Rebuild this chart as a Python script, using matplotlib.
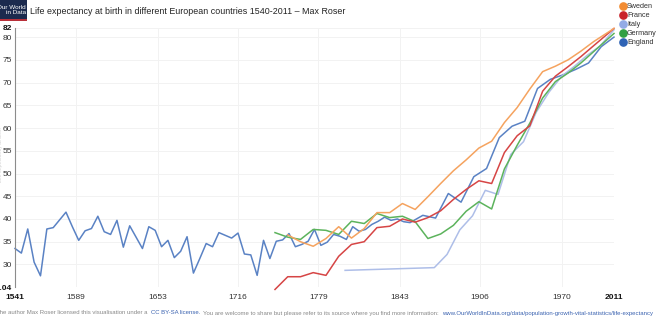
import matplotlib.pyplot as plt
from matplotlib.patches import Rectangle
from matplotlib.lines import Line2D

plt.rcParams['font.family'] = ['Liberation Sans', 'DejaVu Sans']

# life expectancy at birth
england_years = [1541, 1546, 1551, 1556, 1561, 1566, 1571, 1576, 1581, 1586,
                 1591, 1596, 1601, 1606, 1611, 1616, 1621, 1626, 1631, 1636,
                 1641, 1646, 1651, 1656, 1661, 1666, 1671, 1676, 1681, 1686,
                 1691, 1696, 1701, 1706, 1711, 1716, 1721, 1726, 1731, 1736,
                 1741, 1746, 1751, 1756, 1761, 1766, 1771, 1776, 1781, 1786,
                 1791, 1796, 1801, 1806, 1811, 1816, 1821, 1826, 1831, 1836,
                 1841, 1846, 1851, 1861, 1871, 1881, 1891, 1901, 1911, 1921,
                 1931, 1941, 1951, 1961, 1971, 1981, 1991, 2001, 2011]
england_le = [33.5, 32.5, 37.8, 30.5, 27.5, 37.8, 38.1, 39.8, 41.5, 38.3,
              35.3, 37.4, 37.9, 40.6, 37.2, 36.6, 39.7, 33.8, 38.5, 36.0,
              33.5, 38.3, 37.5, 33.9, 35.3, 31.5, 32.9, 36.1, 28.1, 31.3,
              34.6, 33.9, 37.0, 36.4, 35.8, 36.9, 32.3, 32.1, 27.6, 35.3,
              31.3, 35.1, 35.4, 36.8, 33.9, 34.4, 35.1, 37.7, 34.2, 34.9,
              36.6, 36.2, 35.5, 38.3, 37.3, 37.7, 38.8, 39.5, 40.4, 39.7,
              40.0, 39.4, 39.2, 40.8, 40.2, 45.6, 43.7, 49.3, 51.1, 57.9,
              60.4, 61.5, 68.7, 70.7, 71.7, 72.9, 74.3, 77.9, 80.0]

sweden_years = [1755, 1765, 1775, 1785, 1795, 1805, 1815, 1825, 1835, 1845,
                1855, 1865, 1875, 1885, 1895, 1905, 1915, 1925, 1935, 1945,
                1955, 1965, 1975, 1985, 1995, 2011]
sweden_le = [36.5, 35.0, 34.0, 35.7, 38.3, 35.8, 37.9, 41.4, 41.4, 43.4,
             42.1, 44.9, 47.8, 50.6, 53.0, 55.6, 57.1, 61.2, 64.5, 68.6,
             72.4, 73.6, 75.0, 76.9, 79.0, 81.9]

france_years = [1745, 1755, 1765, 1775, 1785, 1795, 1805, 1815, 1825, 1835,
                1845, 1855, 1865, 1875, 1885, 1895, 1905, 1915, 1925, 1935,
                1945, 1955, 1965, 1975, 1985, 1995, 2011]
france_le = [24.5, 27.3, 27.3, 28.2, 27.6, 31.8, 34.4, 35.0, 38.1, 38.4,
             40.0, 39.3, 40.3, 41.8, 44.3, 46.5, 48.4, 47.8, 54.6, 58.3,
             60.5, 68.1, 71.4, 73.5, 75.7, 78.1, 81.9]

italy_years = [1800, 1870, 1880, 1890, 1900, 1910, 1920, 1930, 1940, 1950,
               1960, 1970, 1980, 1990, 2000, 2011]
italy_le = [28.7, 29.3, 32.2, 37.6, 40.7, 46.3, 45.4, 54.2, 57.0, 63.5,
            67.9, 71.4, 73.6, 76.0, 78.0, 81.6]

germany_years = [1745, 1755, 1765, 1775, 1785, 1795, 1805, 1815, 1825, 1835,
                 1845, 1855, 1865, 1875, 1885, 1895, 1905, 1915, 1925, 1935,
                 1945, 1955, 1965, 1975, 1985, 1995, 2011]
germany_le = [37.0, 36.0, 35.5, 37.7, 37.5, 36.6, 39.5, 39.0, 41.2, 40.3,
              40.6, 39.4, 35.7, 36.7, 38.6, 41.7, 43.8, 42.2, 51.0, 56.2,
              61.1, 66.6, 70.2, 72.1, 74.3, 76.8, 80.8]

x_ticks = [1541, 1589, 1653, 1716, 1779, 1843, 1906, 1970, 2011]
y_ticks = [25.04, 30, 35, 40, 45, 50, 55, 60, 65, 70, 75, 80, 82]

series = [
    ("England", england_years, england_le, "#5a82c4", "#2f63b5"),
    ("Italy", italy_years, italy_le, "#aebee8", "#93abe6"),
    ("Germany", germany_years, germany_le, "#5cb35c", "#33a043"),
    ("France", france_years, france_le, "#d64545", "#c92229"),
    ("Sweden", sweden_years, sweden_le, "#f5a35f", "#f28c33"),
]
legend_order = ["Sweden", "France", "Italy", "Germany", "England"]

W, H = 661, 322
fig = plt.figure(figsize=(W / 100, H / 100), dpi=100)
ax = fig.add_axes([15 / W, 1 - 287 / H, 599 / W, 259 / H])

for name, yrs, vals, col, _ in series:
    ax.plot(yrs, vals, color=col, lw=1.1, clip_on=False)

ax.set_xlim(1541, 2011)
ax.set_ylim(25.04, 82)
ax.set_xticks(x_ticks)
ax.set_xticklabels([str(t) for t in x_ticks])
ax.set_yticks(y_ticks)
ax.set_yticklabels(["25.04"] + [str(t) for t in y_ticks[1:-1]] + ["82"])
ax.tick_params(axis="both", length=0, labelsize=6, labelcolor="#333333")
ax.tick_params(axis="x", pad=5)
ax.tick_params(axis="y", pad=2)
for lab in ax.get_xticklabels():
    if lab.get_text() in ("1541", "2011"):
        lab.set_fontweight("bold")
        lab.set_color("#111111")
for lab in ax.get_yticklabels():
    if lab.get_text() in ("25.04", "82"):
        lab.set_fontweight("bold")
        lab.set_color("#111111")

ax.grid(True, color="#f2f2f2", lw=0.7)
ax.set_axisbelow(True)
for side in ("top", "right", "bottom"):
    ax.spines[side].set_visible(False)
ax.spines["left"].set_color("#8c8c8c")
ax.spines["left"].set_linewidth(0.8)

# faint axis title, mostly hidden at the left edge
fig.text(0.8 / W, 1 - 155 / H, "Life expectancy at birth", rotation=90,
         fontsize=3.8, color="#d0d0d0", ha="center", va="center")

# logo
fig.add_artist(Rectangle((0, 1 - 21 / H), 27 / W, 21 / H, transform=fig.transFigure,
                         facecolor="#1b2a4e", edgecolor="none"))
fig.add_artist(Rectangle((0, 1 - 21 / H), 27 / W, 2 / H, transform=fig.transFigure,
                         facecolor="#b8303a", edgecolor="none"))
fig.text(26 / W, 1 - 10 / H, "Our World\nin Data", color="white", fontsize=4.6,
         ha="right", va="center", linespacing=0.95)

fig.text(30 / W, 1 - 12 / H,
         "Life expectancy at birth in different European countries 1540-2011 \u2013 Max Roser",
         fontsize=6.4, color="#222222", va="center")

# legend
colors = {name: lc for name, _, _, _, lc in series}
for i, name in enumerate(legend_order):
    yy = 1 - (6 + 9.1 * i) / H
    fig.add_artist(Line2D([622.5 / W], [yy], marker="o", markersize=5.2, color=colors[name],
                          transform=fig.transFigure, lw=0))
    fig.text(627 / W, yy, name, fontsize=5.2, color="#333333", va="center")

# footer with coloured links
footer_parts = [
    ("The author Max Roser licensed this visualisation under a", "#888888"),
    ("CC BY-SA license.", "#3a62b0"),
    ("You are welcome to share but please refer to its source where you find more information:", "#888888"),
    ("www.OurWorldInData.org/data/population-growth-vital-statistics/life-expectancy", "#3a62b0"),
]
renderer = fig.canvas.get_renderer()
x = -4.0
for text, col in footer_parts:
    t = fig.text(x / W, 1 - 313 / H, text, fontsize=4.3, color=col, va="center")
    bb = t.get_window_extent(renderer)
    x = bb.x1 + 3.2

fig.savefig("out.png", dpi=100)
